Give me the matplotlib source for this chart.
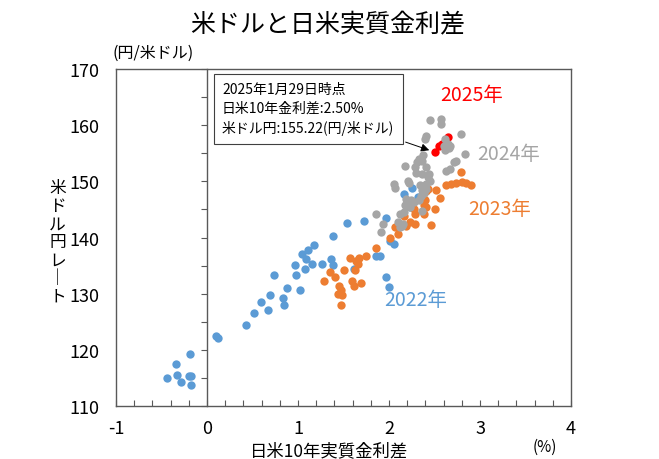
import matplotlib as mpl
mpl.use('agg')
import numpy as np
from matplotlib import pyplot as plt
from matplotlib.ticker import MultipleLocator

plt.rcParams['font.family'] = ['Noto Sans CJK JP', 'DejaVu Sans']
plt.rcParams['axes.unicode_minus'] = False

# 2022
x_2022 = [-0.44, -0.34, -0.33, -0.29, -0.19, -0.20, -0.18, -0.18, 0.10, 0.12,
          0.43, 0.52, 0.59, 0.67, 0.69, 0.84, 0.85, 0.88, 1.02, 0.74,
          0.97, 0.98, 1.04, 1.08, 1.09, 1.11, 1.15, 1.18, 1.26, 1.36,
          1.38, 1.39, 1.54, 1.73, 1.62, 1.86, 1.90, 1.97, 2.00, 1.97,
          2.01, 2.05, 2.25, 2.17, 2.32, 2.23]
y_2022 = [114.9, 117.4, 115.5, 114.3, 119.3, 115.4, 115.3, 113.7, 122.5, 122.1,
          124.4, 126.6, 128.6, 127.1, 129.8, 129.3, 128.0, 131.0, 130.7, 133.3,
          135.1, 133.4, 137.0, 134.4, 136.2, 137.7, 135.3, 138.7, 135.3, 136.2,
          135.1, 140.3, 142.6, 143.0, 134.4, 136.7, 136.7, 133.0, 131.2, 143.4,
          139.4, 138.9, 148.8, 147.7, 147.3, 145.4]

# 2023
x_2023 = [1.29, 1.35, 1.41, 1.45, 1.47, 1.44, 1.48, 1.47, 1.51, 1.57,
          1.59, 1.61, 1.63, 1.65, 1.67, 1.66, 1.64, 1.69, 1.75, 1.86,
          2.01, 2.07, 2.10, 2.12, 2.16, 2.19, 2.23, 2.29, 2.27, 2.29,
          2.38, 2.40, 2.38, 2.41, 2.38, 2.41, 2.43, 2.46, 2.51, 2.56,
          2.52, 2.63, 2.68, 2.74, 2.80, 2.85, 2.90, 2.79]
y_2023 = [132.3, 133.9, 133.0, 131.3, 130.7, 129.9, 129.7, 128.0, 134.3, 136.4,
          132.3, 131.4, 134.3, 135.8, 136.4, 135.2, 135.9, 131.9, 136.7, 138.1,
          140.0, 141.9, 140.7, 142.4, 143.9, 142.1, 142.7, 142.4, 145.1, 144.2,
          146.9, 146.6, 145.7, 145.4, 144.2, 148.3, 148.6, 142.2, 145.1, 147.0,
          148.5, 149.3, 149.5, 149.7, 149.8, 149.7, 149.3, 151.6]

# 2024
x_2024 = [2.45, 2.57, 2.57, 2.41, 2.40, 2.62, 2.65, 2.60, 2.67, 2.66,
          2.62, 2.79, 2.84, 2.74, 2.71, 2.67, 2.63, 2.37, 2.33, 2.36,
          2.31, 2.18, 2.29, 2.41, 2.30, 2.44, 2.36, 2.43, 2.45, 2.41,
          2.21, 2.22, 2.05, 2.07, 2.34, 2.36, 2.41, 2.38, 2.35, 2.19,
          2.24, 2.33, 2.18, 2.23, 2.16, 2.12, 2.36, 1.86, 1.93, 1.91,
          2.15, 2.12, 2.10, 2.14, 2.27]
y_2024 = [160.9, 161.1, 160.2, 158.0, 157.5, 157.5, 156.6, 156.3, 156.3, 155.9,
          155.5, 158.4, 154.9, 153.7, 153.4, 152.2, 151.9, 154.7, 154.0, 153.7,
          153.4, 152.7, 152.5, 152.5, 151.5, 151.3, 151.3, 150.7, 150.1, 149.5,
          150.1, 149.7, 149.5, 148.9, 149.4, 148.5, 148.6, 147.9, 147.4, 146.9,
          146.6, 146.6, 145.7, 145.4, 144.5, 144.2, 144.8, 144.2, 142.4, 140.9,
          142.4, 141.8, 142.7, 142.1, 146.3]

# 2025
x_2025 = [2.65, 2.58, 2.55, 2.50]
y_2025 = [157.9, 156.6, 156.3, 155.22]

C_BLUE = '#5B9BD5'
C_ORANGE = '#ED7D31'
C_GRAY = '#A5A5A5'
C_RED = '#FF0000'
SPINE = '#595959'

fig = plt.figure(figsize=(6.59, 4.6), dpi=100)
ax = fig.add_axes([0.176, 0.1152, 0.6905, 0.7326])

ms = 36
ax.scatter(x_2022, y_2022, s=ms, color=C_BLUE, linewidths=0, zorder=3)
ax.scatter(x_2023, y_2023, s=ms, color=C_ORANGE, linewidths=0, zorder=3)
ax.scatter(x_2025, y_2025, s=ms, color=C_RED, linewidths=0, zorder=3)
ax.scatter(x_2024, y_2024, s=ms, color=C_GRAY, linewidths=0, zorder=3)

ax.set_xlim(-1, 4)
ax.set_ylim(110, 170)
ax.xaxis.set_major_locator(MultipleLocator(1))
ax.xaxis.set_minor_locator(MultipleLocator(0.2))
ax.yaxis.set_major_locator(MultipleLocator(10))
ax.tick_params(axis='x', which='both', direction='in', length=4, width=0.8,
               color=SPINE, labelsize=13, pad=9)
ax.tick_params(axis='y', which='both', length=0, labelsize=13, pad=12)
for s in ax.spines.values():
    s.set_color(SPINE)
    s.set_linewidth(1.0)

# y axis line crossing at x = 0
sec = ax.secondary_yaxis(0.2)
sec.spines['left'].set_color(SPINE)
sec.spines['left'].set_linewidth(1.0)
sec.yaxis.set_major_locator(MultipleLocator(5))
sec.tick_params(axis='y', direction='out', length=4, width=0.8, color=SPINE,
                labelleft=False)

fig.text(0.497, 0.945, '米ドルと日米実質金利差', ha='center', va='center', fontsize=18)
fig.text(0.170, 0.885, '(円/米ドル)', ha='left', va='center', fontsize=11.5)
fig.text(0.087, 0.472, '米\nド\nル\n円\nレ\n｜\nト', ha='center', va='center',
         fontsize=12, linespacing=1.08)
fig.text(0.50, 0.019, '日米10年実質金利差', ha='center', va='center', fontsize=12.5)
fig.text(0.827, 0.028, '(%)', ha='center', va='center', fontsize=11)

ax.text(2.56, 165.4, '2025年', color=C_RED, fontsize=14, ha='left', va='center')
ax.text(2.965, 155.0, '2024年', color=C_GRAY, fontsize=14, ha='left', va='center')
ax.text(2.865, 145.1, '2023年', color=C_ORANGE, fontsize=14, ha='left', va='center')
ax.text(1.945, 129.05, '2022年', color=C_BLUE, fontsize=14, ha='left', va='center')

note = '2025年1月29日時点\n日米10年金利差:{:.2f}%\n米ドル円:{:.2f}(円/米ドル)'.format(
    x_2025[-1], y_2025[-1])
ax.annotate(note, xy=(x_2025[-1], y_2025[-1]), xytext=(0.165, 167.7),
            ha='left', va='top', fontsize=10, linespacing=1.45, zorder=5,
            bbox=dict(boxstyle='square,pad=0.6', fc='white', ec='#404040', lw=0.8),
            arrowprops=dict(arrowstyle='-|>', color='black', lw=0.7,
                            shrinkB=4, mutation_scale=12))

plt.savefig('out.png', dpi=100)
